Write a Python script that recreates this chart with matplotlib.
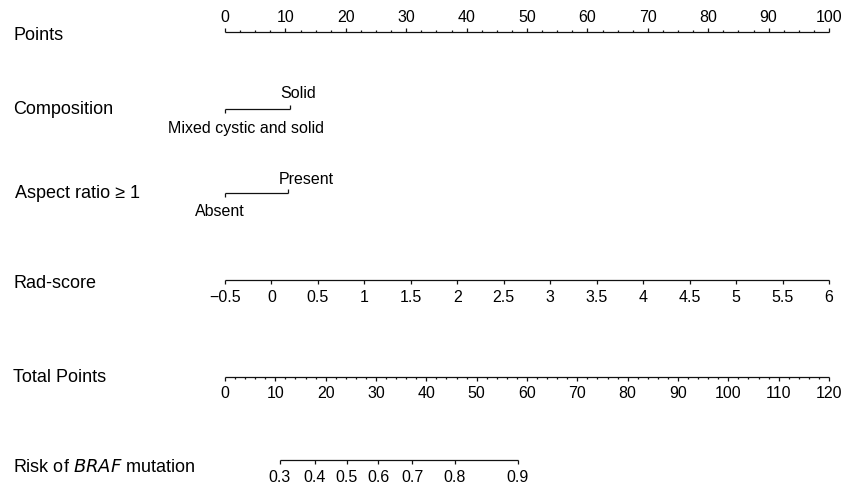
import numpy as np
import matplotlib
matplotlib.use("Agg")
import matplotlib.pyplot as plt

plt.rcParams["font.family"] = ["Liberation Sans", "DejaVu Sans"]

# -----------------------------------------------------------------------
# Nomogram data
# -----------------------------------------------------------------------
points_ticks = [0, 10, 20, 30, 40, 50, 60, 70, 80, 90, 100]
points_minor_step = 2.5

composition_levels = ["Mixed cystic and solid", "Solid"]
composition_points = [0.0, 10.8]

aspect_levels = ["Absent", "Present"]
aspect_points = [0.0, 10.4]

radscore_ticks = [-0.5, 0, 0.5, 1, 1.5, 2, 2.5, 3, 3.5, 4, 4.5, 5, 5.5, 6]
radscore_labels = ["\u22120.5", "0", "0.5", "1", "1.5", "2", "2.5", "3",
                   "3.5", "4", "4.5", "5", "5.5", "6"]
radscore_range = [-0.5, 6.0]   # maps onto 0 .. 100 points

total_ticks = [0, 10, 20, 30, 40, 50, 60, 70, 80, 90, 100, 110, 120]
total_minor_step = 2
total_max = 120                # total points scale spans the same width as 0..100 points

risk_values = [0.3, 0.4, 0.5, 0.6, 0.7, 0.8, 0.9]
risk_total_points = [10.9, 17.8, 24.2, 30.4, 37.2, 45.7, 58.2]

row_labels = ["Points", "Composition", "Aspect ratio \u2265 1", "Rad-score",
              "Total Points", "Risk of $\\it{BRAF}$ mutation"]

# -----------------------------------------------------------------------
# Layout (pixel rows, figure is 848 x 489)
# -----------------------------------------------------------------------
W, H = 848, 489
X0, X100 = 225, 829
SCALE = (X100 - X0) / 100.0
FS = 11.5          # tick / level labels
FS_ROW = 13.0      # row titles
LINE_KW = dict(color="#111111", lw=0.9, solid_capstyle="butt")


def tp_to_pts(t):
    return np.asarray(t, dtype=float) * 100.0 / total_max


def rad_to_pts(r):
    r = np.asarray(r, dtype=float)
    return (r - radscore_range[0]) / (radscore_range[1] - radscore_range[0]) * 100.0


def draw_scale(ax, y, major, labels, side, minor=None, major_len=4, minor_len=2,
               label_off=15):
    """Horizontal scale: line, ticks pointing toward the labels (side=-1 up, +1 down)."""
    major = np.asarray(major, dtype=float)
    ax.plot([major.min(), major.max()], [y, y], **LINE_KW)
    for x in major:
        ax.plot([x, x], [y, y + side * major_len], **LINE_KW)
    if minor is not None:
        for x in minor:
            if np.min(np.abs(major - x)) > 1e-6:
                ax.plot([x, x], [y, y + side * minor_len], **LINE_KW)
    for x, lab in zip(major, labels):
        ax.text(x, y + side * label_off, lab, ha="center", va="center", fontsize=FS)


def draw_factor(ax, y, pts, levels, label_dx, label_dy):
    """Two-level factor: line between the levels, end ticks toward each label."""
    ax.plot(pts, [y, y], **LINE_KW)
    sides = [1, -1]
    for p, lev, dx, dy, s in zip(pts, levels, label_dx, label_dy, sides):
        ax.plot([p, p], [y, y + s * 4], **LINE_KW)
        ax.text(p + dx / SCALE, y + s * dy, lev, ha="center", va="center", fontsize=FS)


fig = plt.figure(figsize=(W / 100, H / 100), dpi=100)
ax = fig.add_axes([0, 0, 1, 1])
ax.set_xlim(-X0 / SCALE, (W - X0) / SCALE)
ax.set_ylim(H, 0)
ax.axis("off")

# Row labels
label_y = [36, 110, 194, 283, 378, 468]
label_x = [13, 13, 15, 13, 13, 13]
for lab, lx, ly in zip(row_labels, label_x, label_y):
    ax.text((lx - X0) / SCALE, ly, lab, ha="left", va="center", fontsize=FS_ROW)

# Points
draw_scale(ax, 33, points_ticks, [str(t) for t in points_ticks], side=-1,
           minor=np.arange(0, 100 + 1e-9, points_minor_step), label_off=15)

# Composition / aspect ratio
draw_factor(ax, 110, composition_points, composition_levels,
            label_dx=[21, 8], label_dy=[19, 16])
draw_factor(ax, 194, aspect_points, aspect_levels,
            label_dx=[-5, 18], label_dy=[17, 15])

# Rad-score
draw_scale(ax, 281, rad_to_pts(radscore_ticks), radscore_labels, side=1,
           major_len=4, label_off=16)

# Total points
draw_scale(ax, 378, tp_to_pts(total_ticks), [str(t) for t in total_ticks], side=1,
           minor=tp_to_pts(np.arange(0, total_max + 1e-9, total_minor_step)),
           label_off=15)

# Risk
draw_scale(ax, 461, tp_to_pts(risk_total_points), [f"{v:.1f}" for v in risk_values],
           side=1, label_off=16)

fig.savefig("out.png", dpi=100)
